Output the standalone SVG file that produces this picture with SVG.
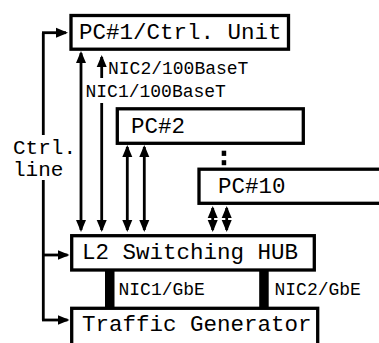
<svg xmlns="http://www.w3.org/2000/svg" width="379" height="343" viewBox="0 0 379 343">
<style>
.box{fill:#fff;stroke:#000;stroke-width:3.3}
.t{font-family:"Liberation Mono","Courier New",monospace;font-size:22.5px;fill:#000}
.c{font-family:"Liberation Mono","Courier New",monospace;font-size:21px;fill:#000}
.s{font-family:"Liberation Mono","Courier New",monospace;font-size:18px;fill:#000}
.ln{stroke:#000;stroke-width:2.8;fill:none}
.ar{stroke:#000;stroke-width:2.8;fill:none;marker-end:url(#ah)}
.dar{stroke:#000;stroke-width:2.8;fill:none;marker-start:url(#ah);marker-end:url(#ah)}
</style>
<defs>
<marker id="ah" markerUnits="userSpaceOnUse" markerWidth="12" markerHeight="11" refX="10" refY="5" orient="auto-start-reverse" viewBox="0 0 12 10">
<path d="M0,0 L12,5 L0,10 z" fill="#000"/>
</marker>
</defs>
<rect width="379" height="343" fill="#fff"/>
<g id="connectors">
<path class="ln" d="M43.3,32.7 V320"/>
<line class="ar" x1="42" y1="32.7" x2="66" y2="32.7"/>
<line class="ar" x1="43.3" y1="255" x2="67.5" y2="255"/>
<line class="ar" x1="42" y1="320" x2="67.5" y2="320"/>
<line class="dar" x1="81" y1="53" x2="81" y2="230"/>
<line class="dar" x1="101.7" y1="57" x2="101.7" y2="230"/>
<line class="dar" x1="127.3" y1="147" x2="127.3" y2="230"/>
<line class="dar" x1="144.3" y1="147" x2="144.3" y2="230"/>
<line class="dar" x1="212.7" y1="208" x2="212.7" y2="230"/>
<line class="dar" x1="226.7" y1="208" x2="226.7" y2="230"/>
<rect x="105" y="270" width="9.5" height="38" fill="#000"/>
<rect x="259.2" y="270" width="9.5" height="38" fill="#000"/>
</g>
<g id="pc1">
<rect class="box" x="71" y="15.5" width="217.5" height="33.7"/>
<text class="t" x="79" y="38.5">PC#1/Ctrl. Unit</text>
</g>
<g id="pc2">
<rect class="box" x="117.3" y="108.8" width="186" height="34.5"/>
<text class="t" x="131" y="132.5">PC#2</text>
</g>
<g id="dots">
<rect x="221.7" y="150.7" width="4.5" height="5.2" fill="#000"/>
<rect x="221.7" y="160.2" width="4.5" height="5" fill="#000"/>
</g>
<g id="pc10">
<rect class="box" x="199" y="169.2" width="200" height="34.1"/>
<text class="t" x="218" y="192.7">PC#10</text>
</g>
<g id="hub">
<rect class="box" x="71.7" y="235.7" width="242.6" height="34.3"/>
<text class="t" x="82" y="259.3">L2 Switching HUB</text>
</g>
<g id="tg">
<rect class="box" x="71.7" y="308.3" width="246" height="50"/>
<text class="t" x="82" y="331">Traffic Generator</text>
</g>
<g id="labels">
<text class="s" x="108" y="74.3">NIC2/100BaseT</text>
<rect x="85" y="78" width="148" height="25" fill="#fff"/>
<text class="s" x="85.5" y="97">NIC1/100BaseT</text>
<rect x="12" y="135" width="66" height="45" fill="#fff"/>
<text class="c" x="13" y="153.5">Ctrl.</text>
<text class="c" x="13" y="176">line</text>
<text class="s" x="118.5" y="295">NIC1/GbE</text>
<text class="s" x="274.5" y="295">NIC2/GbE</text>
</g>
</svg>
